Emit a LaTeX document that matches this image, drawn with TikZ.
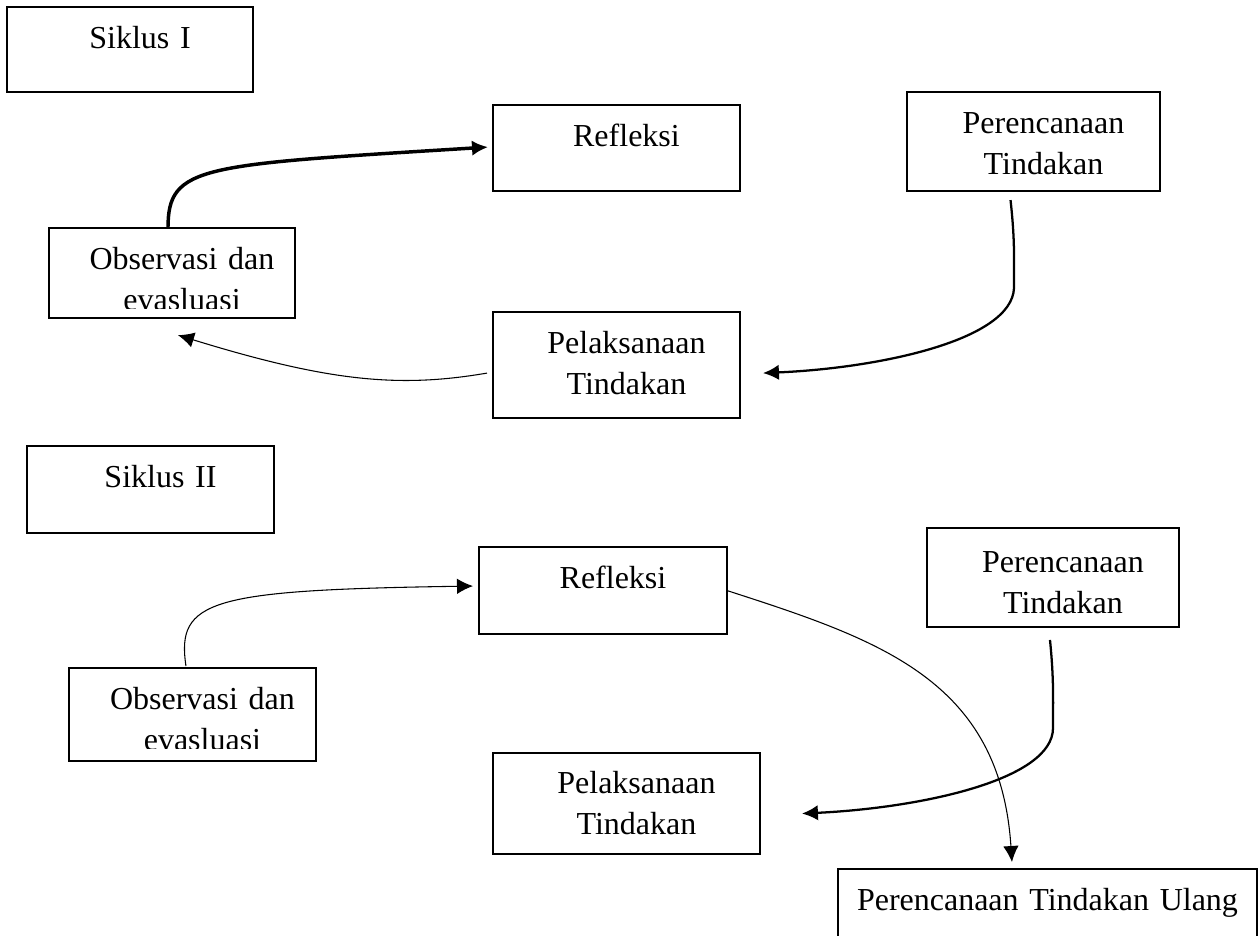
\documentclass[tikz,border=0pt]{standalone}
\usepackage{fontspec}
\setmainfont{Liberation Serif}
\usetikzlibrary{calc,arrows.meta}
\tikzset{>={Latex[length=6pt,width=5.8pt]}}
\tikzset{
  kotak/.style={draw, line width=0.6pt, rectangle, anchor=north west, align=center,
    inner sep=0pt, outer sep=0pt, text height=15.4pt,
    execute at begin node={\advance\leftskip by #1},
    font=\fontsize{12}{15.4}\selectfont},
  kotak/.default=7.5pt,
  bingkai/.style={draw, line width=0.6pt},
  panah/.style={->, line width=0.4pt},
  panah sedang/.style={->, line width=0.85pt},
  panah tebal/.style={->, line width=1.3pt},
}

\begin{document}
\begin{tikzpicture}[x=0.375pt, y=-0.375pt]

  \useasboundingbox (0,0) rectangle (1258,935);

  \node[kotak, text width=92.25pt, text depth=16.5pt] (siklus1) at (7,7) {Siklus I};
  \node[kotak, text width=92.6pt, text depth=16.9pt] (refleksi1) at (493,105) {Refleksi};
  \node[kotak, text width=94.9pt, text depth=21.75pt] (rencana1) at (907,92) {Perencanaan\\Tindakan};
  \begin{scope}
    \clip (40,220) rectangle (305,308.5);
    \node[kotak, draw=none, text width=92.25pt, text depth=18.4pt] (obs1) at (49,228) {Observasi dan\\evasluasi};
  \end{scope}
  \draw[bingkai] (obs1.north west) rectangle (obs1.south east);
  \node[kotak, text width=92.6pt, text depth=24.4pt] (pelaksanaan1) at (493,312) {Pelaksanaan\\Tindakan};

  \draw[panah tebal] ($(obs1.north)+(-4,0)$) .. controls (168,165) and (200,165) .. ($(refleksi1.west)+(-5,-1)$);
  \draw[panah sedang] ($(rencana1.south)+(-23,9)$) .. controls (1015,240) and (1014,260) .. (1014,288)
    .. controls (1012,340) and (880,368) .. ($(pelaksanaan1.east)+(23,8)$);
  \draw[panah] ($(pelaksanaan1.west)+(-6,8)$) .. controls (400,388) and (330,382) .. ($(obs1.south)+(6,17)$);

  \node[kotak, text width=92.6pt, text depth=17.25pt] (siklus2) at (27,446) {Siklus II};
  \node[kotak, text width=93pt, text depth=17.25pt] (refleksi2) at (479,547) {Refleksi};
  \node[kotak, text width=94.5pt, text height=16.5pt, text depth=20.6pt] (rencana2) at (927,528) {Perencanaan\\Tindakan};
  \begin{scope}
    \clip (60,660) rectangle (325,748.5);
    \node[kotak, draw=none, text width=92.6pt, text depth=19.5pt] (obs2) at (69,668) {Observasi dan\\evasluasi};
  \end{scope}
  \draw[bingkai] (obs2.north west) rectangle (obs2.south east);
  \node[kotak, text width=100.1pt, text height=15pt, text depth=22.9pt] (pelaksanaan2) at (493,753) {Pelaksanaan\\Tindakan};
  \node[kotak=0pt, text width=157.1pt, text depth=22.5pt] (ulang) at (838,869) {Perencanaan Tindakan Ulang};

  \draw[panah] ($(obs2.north)+(-6.5,-2)$) .. controls (176,600) and (210,590) .. ($(refleksi2.west)+(-6,-4.5)$);
  \draw[panah] (refleksi2.east) .. controls (880,640) and (1000,680) .. ($(ulang.north)+(-35.5,-7)$);
  \draw[panah sedang] ($(rencana2.south)+(-3,13)$) .. controls (1054,680) and (1053,700) .. (1053,728)
    .. controls (1053,780) and (920,808) .. ($(pelaksanaan2.east)+(42,10)$);

\end{tikzpicture}
\end{document}
